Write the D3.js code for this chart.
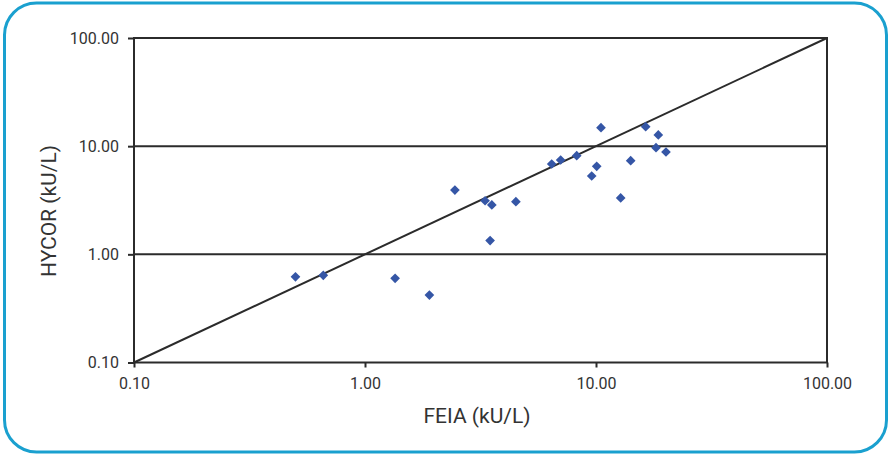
<!DOCTYPE html>
<html><head><meta charset="utf-8">
<script src="https://cdn.jsdelivr.net/npm/d3@7"></script>
<style>body{margin:0;background:#fff;}svg{display:block;}</style>
</head><body>
<svg id="c" width="888" height="455"></svg>
<script>
const feia  = [0.50,0.66,1.35,1.90,2.45,3.31,3.54,3.48,4.50,6.43,7.03,8.25,9.58,10.07,10.51,12.79,14.13,16.41,18.19,18.61,20.09];
const hycor = [0.62,0.64,0.60,0.42,3.93,3.13,2.86,1.34,3.07,6.84,7.45,8.16,5.30,6.51,14.81,3.32,7.34,15.13,9.68,12.69,8.83];
const tickValues = [0.1,1,10,100];
const gridValues = [1,10];
const xTitle = "FEIA (kU/L)";
const yTitle = "HYCOR (kU/L)";

const svg = d3.select("#c");
const L=134,R=827,T=38,B=362.5;
const x = d3.scaleLog().domain([0.1,100]).range([L,R]);
const y = d3.scaleLog().domain([0.1,100]).range([B,T]);
const font = "Roboto, 'Noto Sans', sans-serif";
const dark = "#2b2b2b";

svg.append("rect").attr("x",4.5).attr("y",3).attr("width",882).attr("height",449)
  .attr("rx",32).attr("ry",32).attr("fill","#fff").attr("stroke","#1aa0cf").attr("stroke-width",3);

// grid lines
svg.selectAll(".grid").data(gridValues).enter().append("line")
  .attr("x1",L).attr("x2",R).attr("y1",d=>y(d)).attr("y2",d=>y(d))
  .attr("stroke",dark).attr("stroke-width",2);

// frame
svg.append("rect").attr("x",L).attr("y",T).attr("width",R-L).attr("height",B-T)
  .attr("fill","none").attr("stroke",dark).attr("stroke-width",2);

// diagonal
svg.append("line").attr("x1",x(0.1)).attr("y1",y(0.1)).attr("x2",x(100)).attr("y2",y(100))
  .attr("stroke",dark).attr("stroke-width",2);

const fmt = d3.format(".2f");
const xa = svg.append("g").attr("transform",`translate(0,${B})`)
  .call(d3.axisBottom(x).tickValues(tickValues).tickFormat(fmt).tickSize(5).tickPadding(10));
const ya = svg.append("g").attr("transform",`translate(${L},0)`)
  .call(d3.axisLeft(y).tickValues(tickValues).tickFormat(fmt).tickSize(6).tickPadding(9));
[xa,ya].forEach(a=>{
  a.select(".domain").remove();
  a.selectAll("line").attr("stroke",dark).attr("stroke-width",2);
  a.selectAll("text").attr("fill","#333").style("font-family",font).style("font-size","16px");
});

// points
const sym = d3.symbol().type(d3.symbolDiamond2).size(60);
svg.selectAll(".pt").data(feia.map((v,i)=>[v,hycor[i]])).enter().append("path")
  .attr("d",sym).attr("transform",d=>`translate(${x(d[0])},${y(d[1])})`)
  .attr("fill","#3556a6");

svg.append("text").attr("x",477).attr("y",423).attr("text-anchor","middle")
  .attr("fill","#333").style("font-family",font).style("font-size","21px").text(xTitle);
svg.append("text").attr("transform",`translate(56,211) rotate(-90)`).attr("text-anchor","middle")
  .attr("fill","#333").style("font-family",font).style("font-size","21px").text(yTitle);
</script>
</body></html>
